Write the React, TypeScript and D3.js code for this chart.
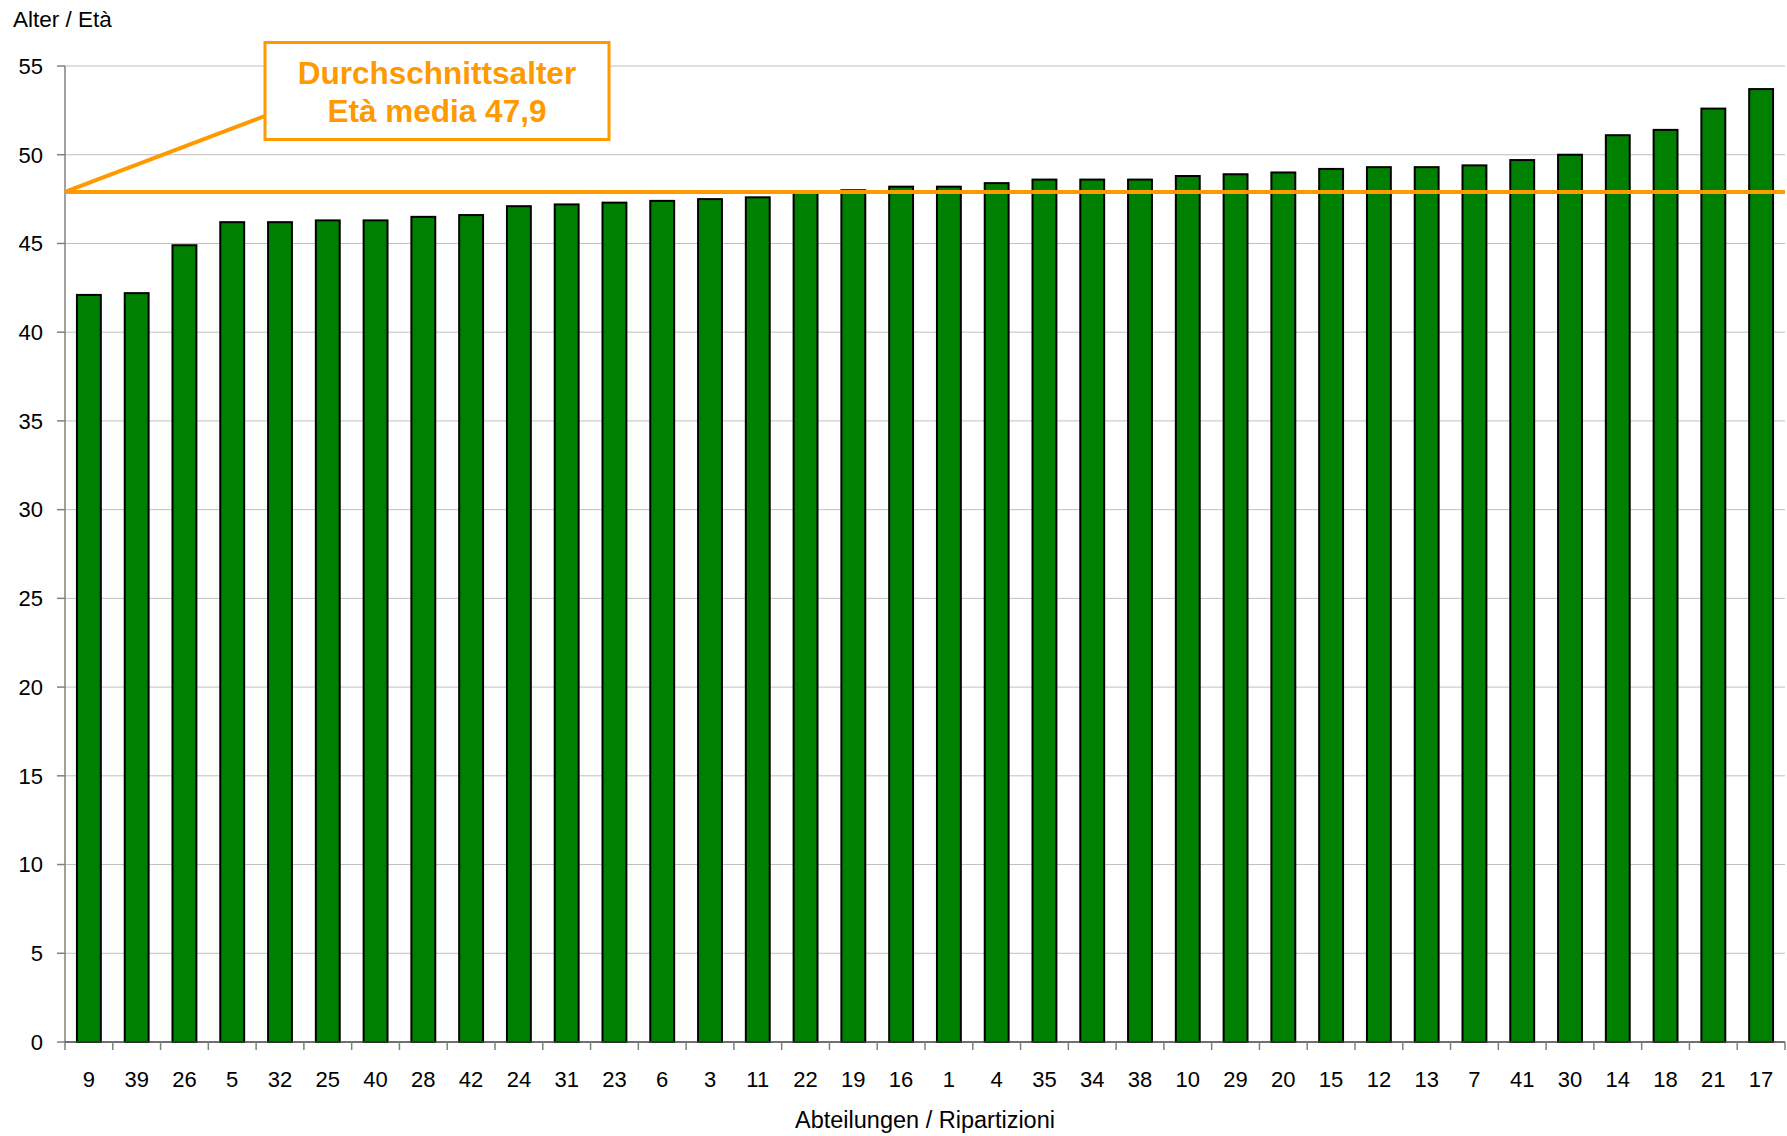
import React from "react";
import * as d3 from "d3";

const categories = ["9","39","26","5","32","25","40","28","42","24","31","23","6","3","11","22","19","16","1","4","35","34","38","10","29","20","15","12","13","7","41","30","14","18","21","17"];
const ages = [42.1,42.2,44.9,46.2,46.2,46.3,46.3,46.5,46.6,47.1,47.2,47.3,47.4,47.5,47.6,47.9,48.0,48.2,48.2,48.4,48.6,48.6,48.6,48.8,48.9,49.0,49.2,49.3,49.3,49.4,49.7,50.0,51.1,51.4,52.6,53.7];
const yTicks = [0,5,10,15,20,25,30,35,40,45,50,55];
const meanAge = 47.9;
const yTitle = "Alter / Età";
const xTitle = "Abteilungen / Ripartizioni";
const noteLines = ["Durchschnittsalter", "Età media 47,9"];

const W = 1787, H = 1136;
const left = 65, right = 1785, top = 66, bottom = 1042;
const FONT = "'Liberation Sans', Arial, Helvetica, sans-serif";
const ORANGE = "#ff9900";

export default function App() {
  const x = d3.scaleBand<string>().domain(categories).range([left, right]).paddingInner(0.5).paddingOuter(0.25);
  const y = d3.scaleLinear().domain([0, 55]).range([bottom, top]);
  const step = x.step();
  const boundaries = d3.range(categories.length + 1).map(i => left + i * step);
  const meanY = y(meanAge);

  const box = { x: 265, y: 42.5, w: 344, h: 97 };

  return (
    <div style={{ position: "absolute", left: 0, top: 0 }}>
      <svg width={W} height={H} style={{ display: "block", background: "#fff" }}>
        {/* gridlines */}
        {yTicks.filter(t => t > 0).map(t => (
          <line key={"g" + t} x1={left} x2={right} y1={y(t)} y2={y(t)} stroke="#c0c0c0" strokeWidth={1} />
        ))}
        {/* y axis */}
        <line x1={left} x2={left} y1={top} y2={bottom} stroke="#808080" strokeWidth={1.5} />
        {yTicks.map(t => (
          <g key={"yt" + t}>
            <line x1={left - 8} x2={left} y1={y(t)} y2={y(t)} stroke="#808080" strokeWidth={1.5} />
            <text x={43} y={y(t) + 7.8} textAnchor="end" fontFamily={FONT} fontSize={22} fill="#000">{t}</text>
          </g>
        ))}
        {/* bars */}
        {categories.map((c, i) => (
          <rect key={"b" + c} x={x(c)} y={y(ages[i])} width={x.bandwidth()} height={bottom - y(ages[i])}
            fill="#008000" stroke="#000" strokeWidth={2} />
        ))}
        {/* x axis */}
        <line x1={left} x2={right} y1={bottom} y2={bottom} stroke="#404040" strokeWidth={1.5} />
        {boundaries.map((bx, i) => (
          <line key={"xt" + i} x1={bx} x2={bx} y1={bottom} y2={bottom + 8} stroke="#808080" strokeWidth={1.5} />
        ))}
        {categories.map(c => (
          <text key={"xl" + c} x={(x(c) as number) + x.bandwidth() / 2} y={1087} textAnchor="middle" fontFamily={FONT} fontSize={22} fill="#000">{c}</text>
        ))}
        {/* titles */}
        <text x={13} y={27} fontFamily={FONT} fontSize={22.5} fill="#000">{yTitle}</text>
        <text x={(left + right) / 2} y={1128} textAnchor="middle" fontFamily={FONT} fontSize={23.5} fill="#000">{xTitle}</text>
        {/* mean line */}
        <line x1={left} x2={right} y1={meanY} y2={meanY} stroke={ORANGE} strokeWidth={4} />
        <line x1={left} y1={meanY} x2={box.x} y2={116} stroke={ORANGE} strokeWidth={4} />
        <rect x={box.x} y={box.y} width={box.w} height={box.h} fill="#fff" stroke={ORANGE} strokeWidth={3} />
        {noteLines.map((l, i) => (
          <text key={"n" + i} x={box.x + box.w / 2} y={84 + i * 37.7} textAnchor="middle" fontFamily={FONT} fontWeight="bold" fontSize={31.5} fill={ORANGE}>{l}</text>
        ))}
      </svg>
    </div>
  );
}
